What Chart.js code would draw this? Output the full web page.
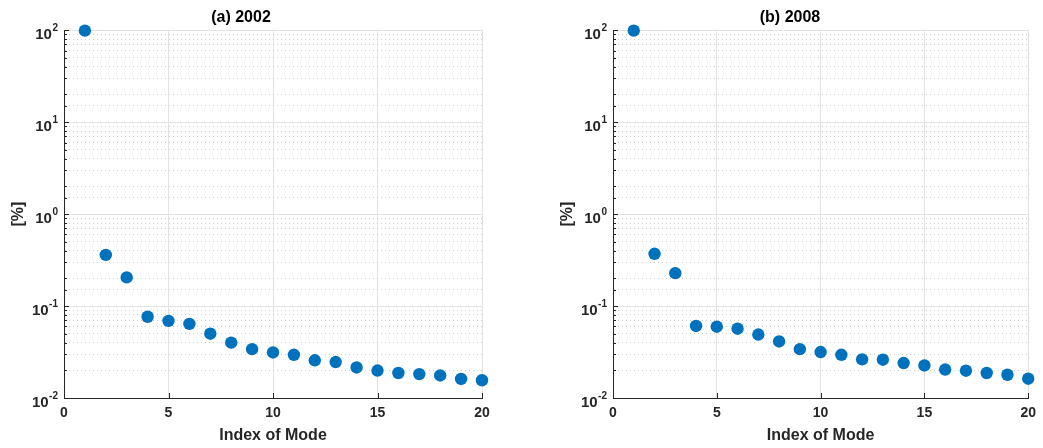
<!DOCTYPE html>
<html>
<head>
<meta charset="utf-8">
<script src="https://cdn.jsdelivr.net/npm/chart.js@4/dist/chart.umd.min.js"></script>
<style>
  html, body { margin: 0; padding: 0; background: #fff; overflow: hidden; }
  .panel { position: absolute; top: 0; height: 448px; }
  #panelA { left: 0; width: 520px; }
  #panelB { left: 549px; width: 494px; }
</style>
</head>
<body>
<div class="panel" id="panelA"><canvas id="chartA"></canvas></div>
<div class="panel" id="panelB"><canvas id="chartB"></canvas></div>
<script>
// mode index (x) and explained share per mode in percent (y, log scale)
const modeIndex = [1, 2, 3, 4, 5, 6, 7, 8, 9, 10, 11, 12, 13, 14, 15, 16, 17, 18, 19, 20];
const share2002 = [98.9, 0.36, 0.205, 0.0765, 0.069, 0.064, 0.050, 0.040, 0.034, 0.0313,
                   0.0295, 0.0257, 0.0246, 0.0215, 0.0199, 0.0187, 0.0182, 0.0176, 0.0161, 0.0156];
const share2008 = [98.9, 0.37, 0.228, 0.0607, 0.0596, 0.0567, 0.049, 0.0412, 0.034, 0.0316,
                   0.0295, 0.0263, 0.0261, 0.024, 0.0226, 0.0204, 0.0198, 0.0187, 0.0179, 0.0162];
const yDecades = [0.01, 0.1, 1, 10, 100];
const yExponents = ['-2', '-1', '0', '1', '2'];

const FONT = '"Liberation Sans", Arial, Helvetica, sans-serif';
const DARK = '#262626';
const GRID = '#e3e3e3';

function isDecade(v) {
  const e = Math.log10(v);
  return Math.abs(e - Math.round(e)) < 1e-6;
}

// MATLAB style: short tick marks pointing into the box, and 10^n labels
const matlabAxes = {
  id: 'matlabAxes',
  afterDatasetsDraw(chart) {
    const { ctx, chartArea, scales } = chart;
    ctx.save();
    ctx.strokeStyle = DARK;
    ctx.lineWidth = 1;
    ctx.beginPath();
    scales.y.ticks.forEach(t => {
      const y = Math.round(scales.y.getPixelForValue(t.value)) + 0.5;
      const len = isDecade(t.value) ? 5 : 3;
      ctx.moveTo(chartArea.left, y);
      ctx.lineTo(chartArea.left + len, y);
    });
    scales.x.ticks.forEach(t => {
      const x = Math.round(scales.x.getPixelForValue(t.value)) + 0.5;
      ctx.moveTo(x, chartArea.bottom);
      ctx.lineTo(x, chartArea.bottom - 5);
    });
    ctx.stroke();

    // decade labels with a real superscript
    ctx.fillStyle = DARK;
    ctx.textAlign = 'right';
    ctx.textBaseline = 'alphabetic';
    yDecades.forEach((d, i) => {
      const y = scales.y.getPixelForValue(d);
      const xr = chartArea.left - 6;
      ctx.font = 'bold 10px ' + FONT;
      const w = ctx.measureText(yExponents[i]).width;
      ctx.fillText(yExponents[i], xr, y + 1);
      ctx.font = 'bold 15px ' + FONT;
      ctx.fillText('10', xr - w - 0.5, y + 8.5);
    });
    ctx.restore();
  }
};

function makeChart(id, title, values, padRight) {
  const ctx = document.getElementById(id).getContext('2d');
  return new Chart(ctx, {
    type: 'scatter',
    data: {
      datasets: [{
        data: modeIndex.map((m, i) => ({ x: m, y: values[i] })),
        backgroundColor: '#0072BD',
        borderWidth: 0,
        pointRadius: 6.2,
        pointHoverRadius: 6.2,
        clip: false
      }]
    },
    options: {
      responsive: true,
      maintainAspectRatio: false,
      animation: false,
      events: [],
      layout: { padding: { left: 0, right: padRight, top: 0, bottom: 0 } },
      plugins: {
        legend: { display: false },
        tooltip: { enabled: false },
        title: {
          display: true,
          text: title,
          color: '#000',
          font: { family: FONT, size: 16, weight: 'bold' },
          padding: { top: 8, bottom: 3 }
        }
      },
      scales: {
        x: {
          type: 'linear',
          min: 0,
          max: 20,
          ticks: {
            stepSize: 5,
            color: DARK,
            padding: 7,
            font: { family: FONT, size: 14, weight: 'bold' }
          },
          grid: { color: GRID, drawTicks: false },
          border: { color: DARK, width: 1 },
          title: {
            display: true,
            text: 'Index of Mode',
            color: DARK,
            font: { family: FONT, size: 16, weight: 'bold' },
            padding: { top: 0, bottom: 3 }
          },
          afterFit(scale) { scale.height = 50; }
        },
        y: {
          type: 'logarithmic',
          min: yDecades[0],
          max: yDecades[yDecades.length - 1],
          ticks: {
            autoSkip: false,
            callback: () => ''
          },
          grid: {
            drawTicks: false,
            color: c => (c.tick && !isDecade(c.tick.value)) ? '#cfcfcf' : GRID
          },
          border: {
            color: DARK,
            width: 1,
            dash: c => (c.tick && !isDecade(c.tick.value)) ? [1, 3] : []
          },
          title: {
            display: true,
            text: '[%]',
            color: DARK,
            font: { family: FONT, size: 16, weight: 'bold' },
            padding: { top: 9, bottom: 0 }
          },
          afterFit(scale) { scale.width = 64; }
        }
      }
    },
    plugins: [matlabAxes]
  });
}

makeChart('chartA', '(a) 2002', share2002, 38);
makeChart('chartB', '(b) 2008', share2008, 12);
</script>
</body>
</html>
